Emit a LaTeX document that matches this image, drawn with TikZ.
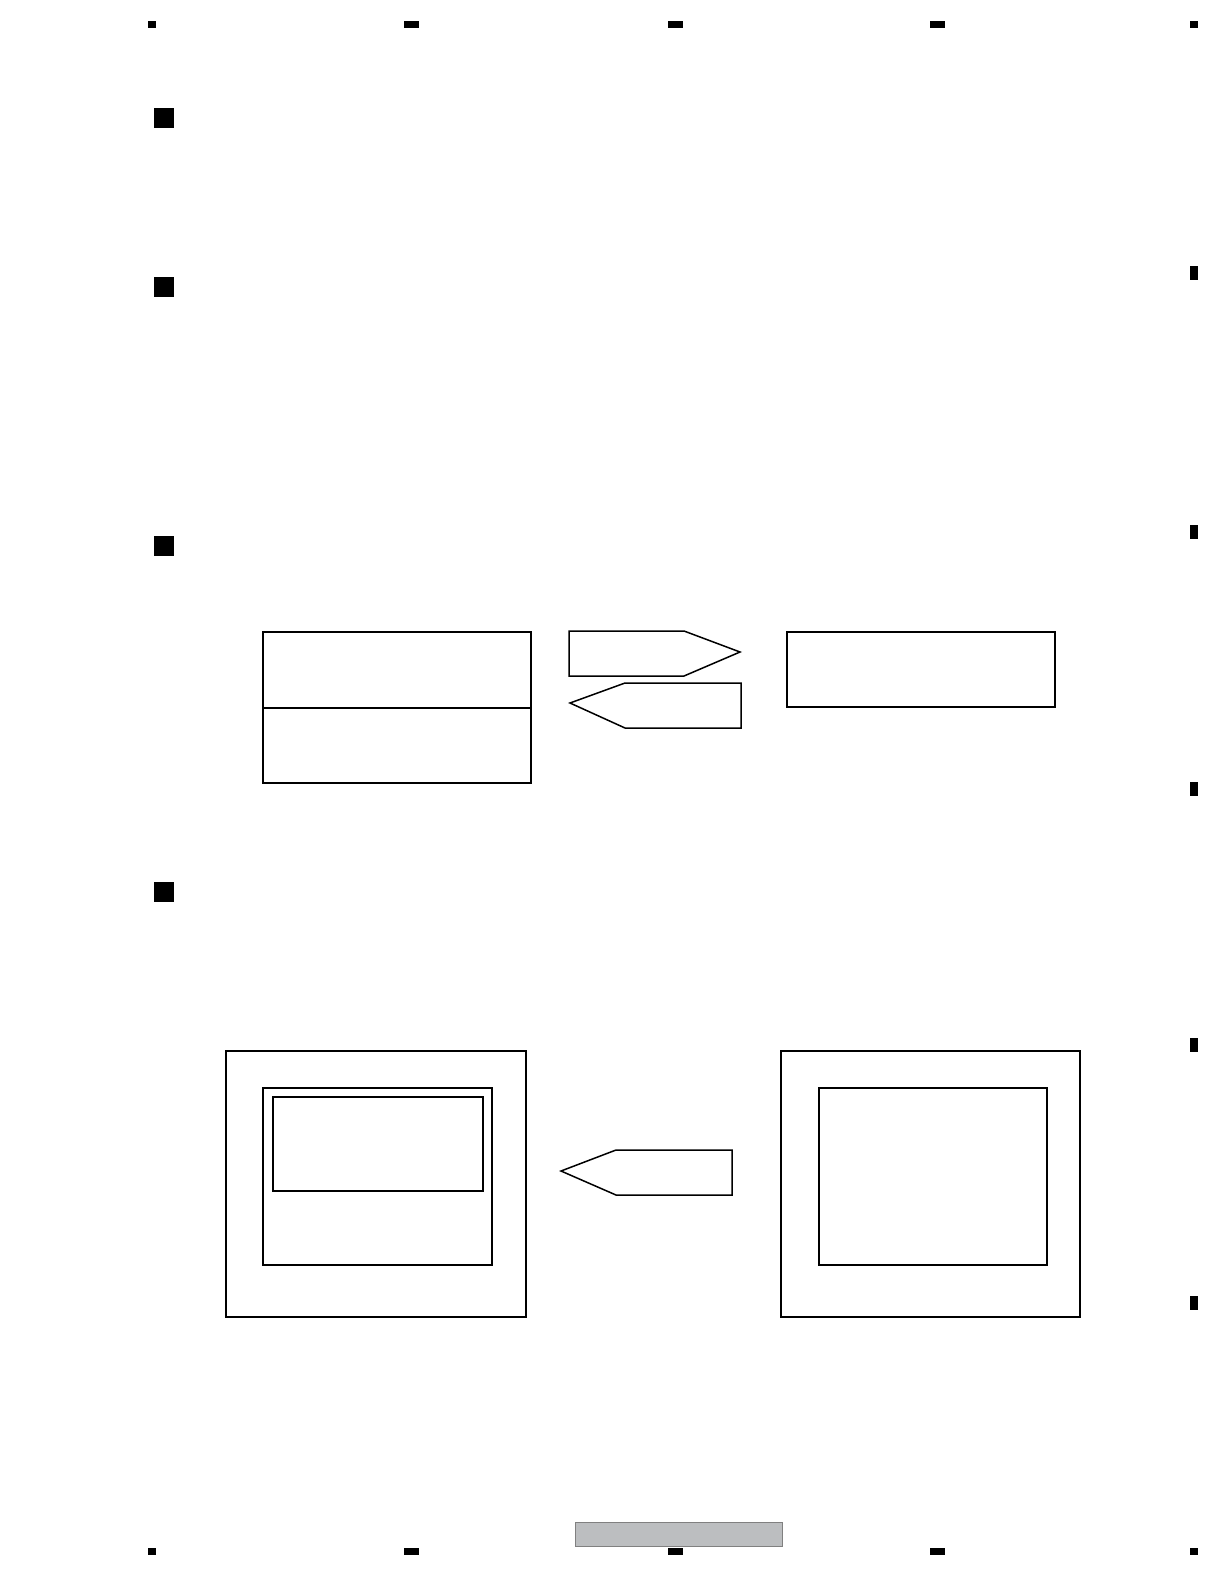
\documentclass[tikz,border=0pt]{standalone}
\usetikzlibrary{calc}
\definecolor{barfill}{RGB}{188,190,192}
\definecolor{barline}{RGB}{128,128,128}

\begin{document}
\begin{tikzpicture}[x=1pt,y=-1pt]
\useasboundingbox (0,0) rectangle (1224,1584);
% page marks
\fill (148,21) rectangle (156,28);
\fill (148,1548) rectangle (156,1555);
\foreach \x in {404,668,930} {
  \fill (\x,21) rectangle (\x+15,28);
  \fill (\x,1548) rectangle (\x+15,1555);
}
\fill (1190,21) rectangle (1198,28);
\fill (1190,1548) rectangle (1198,1555);
\foreach \y in {266,525,782,1038,1296}
  \fill (1190,\y) rectangle (1198,\y+14);
% section bullets
\foreach \y in {108,277,536,882}
  \fill (154,\y) rectangle (174,\y+20);
% upper diagram
\draw[line width=1.5pt] (263,632) rectangle (531,708);
\draw[line width=1.5pt] (263,708) rectangle (531,783);
\draw[line width=1.5pt] (787,632) rectangle (1055,707);
\draw[line width=1.5pt] (569,631)--(684,631)--(740,652)--(684,676)--(569,676)--cycle;
\draw[line width=1.5pt] (741,683)--(625,683)--(570,703)--(625,728)--(741,728)--cycle;
% lower diagram
\draw[line width=1.5pt] (226,1051) rectangle (526,1317);
\draw[line width=1.5pt] (263,1088) rectangle (492,1265);
\draw[line width=1.5pt] (273,1097) rectangle (483,1191);
\draw[line width=1.5pt] (781,1051) rectangle (1080,1317);
\draw[line width=1.5pt] (819,1088) rectangle (1047,1265);
\draw[line width=1.5pt] (732,1150)--(616,1150)--(561,1171)--(616,1195)--(732,1195)--cycle;
% page number bar
\draw[barline, fill=barfill] (575,1522) rectangle (782,1546);
\end{tikzpicture}
\end{document}
